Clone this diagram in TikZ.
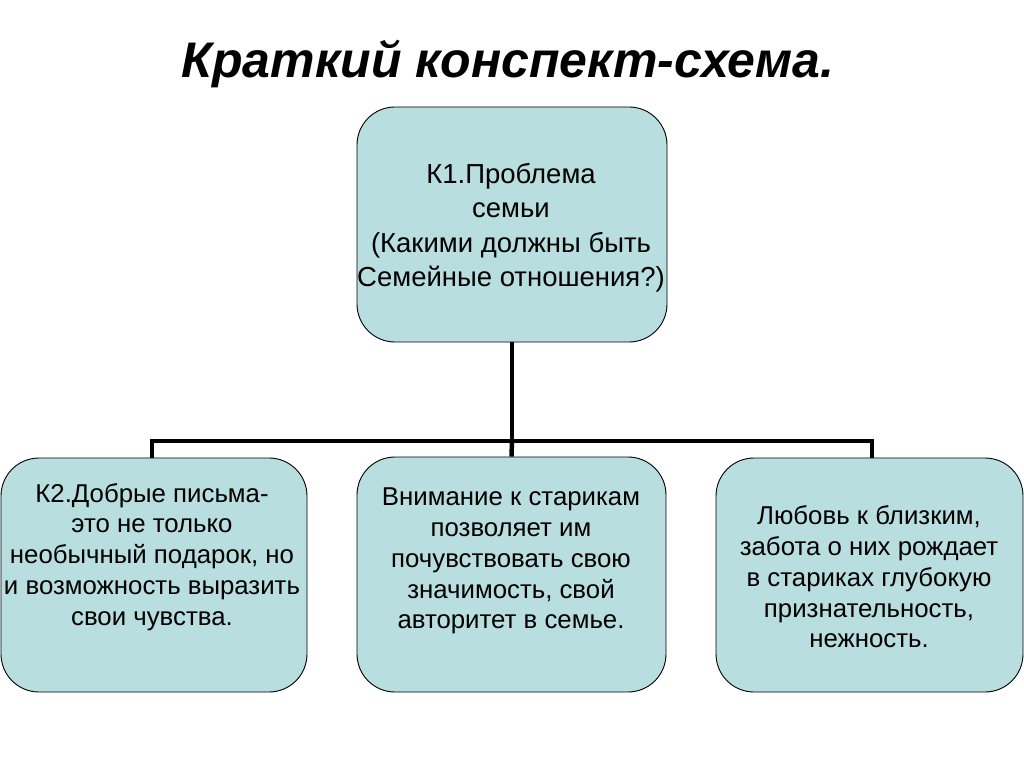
\documentclass[tikz,border=0pt]{standalone}
\usepackage{fontspec}
\setmainfont{Liberation Sans}
\definecolor{boxfill}{RGB}{184,222,224}
\begin{document}
\begin{tikzpicture}[x=1pt,y=-1pt,
  card/.style={draw=black, line width=0.9pt, fill=boxfill, rounded corners=38pt, inner sep=0pt},
  toptext/.style={align=center, font=\fontsize{27.5}{34.5}\selectfont, inner sep=0pt},
  lowtext/.style={align=center, font=\fontsize{25.8}{30.8}\selectfont, inner sep=0pt},
  link/.style={line width=4.5pt, black}]
\useasboundingbox (0,0) rectangle (1024,767);
\fill[white] (0,0) rectangle (1024,767);
\node[font=\fontsize{50}{52}\selectfont\bfseries\itshape, inner sep=0pt, anchor=base] (title) at (508,78) {Краткий конспект-схема.};
\node[card, minimum width=310pt, minimum height=235pt] (top) at (512,224.5) {};
\node[card, minimum width=306pt, minimum height=234pt] (left) at (154,575) {};
\node[card, minimum width=309pt, minimum height=235pt] (mid) at (511.5,574.5) {};
\node[card, minimum width=307pt, minimum height=234pt] (right) at (869.5,575) {};
\node[toptext] (toptx) at (511,228) {К1.Проблема\\семьи\\(Какими должны быть\\Семейные отношения?)};
\node[lowtext] (lefttx) at (152,557) {К2.Добрые письма-\\это не только\\необычный подарок, но\\и возможность выразить\\свои чувства.};
\node[lowtext] (midtx) at (511,561) {Внимание к старикам\\позволяет им\\почувствовать свою\\значимость, свой\\авторитет в семье.};
\node[lowtext] (righttx) at (869,577) {Любовь к близким,\\забота о них рождает\\в стариках глубокую\\признательность,\\нежность.};
\coordinate (hub) at (512,441);
\coordinate (hl) at (152,441);
\coordinate (hr) at (872,441);
\draw[link] (top.south) -- (hub);
\draw[link] ([xshift=-2.25pt]hl) -- ([xshift=2.25pt]hr);
\draw[link] (hl) -- (hl |- left.north);
\draw[link] (hr) -- (hr |- right.north);
\draw[link] (hub) -- (mid.north);
\end{tikzpicture}
\end{document}
